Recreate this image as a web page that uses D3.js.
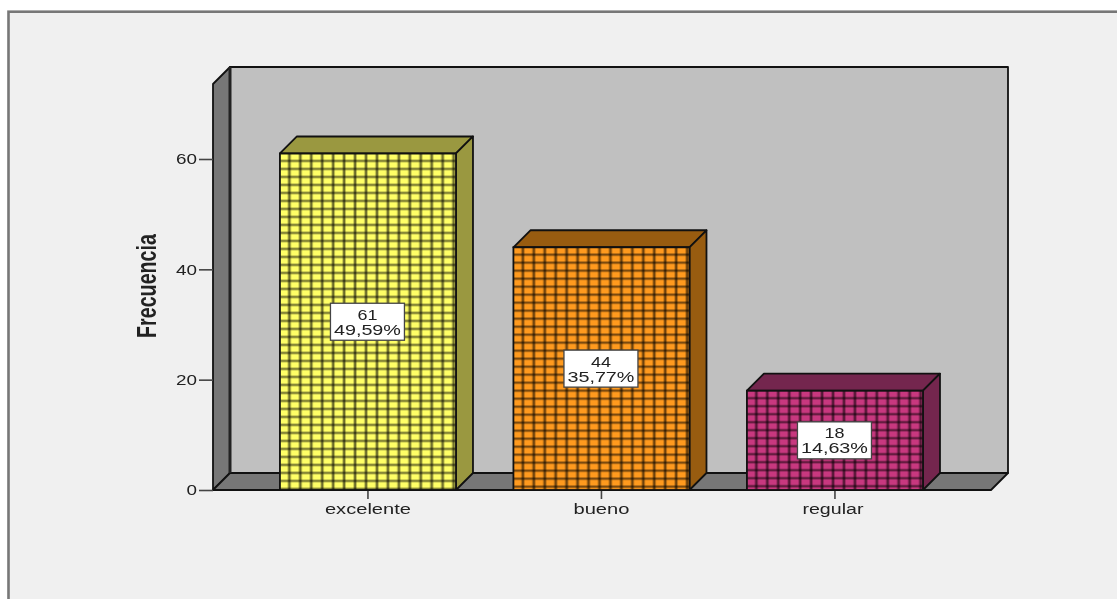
<!DOCTYPE html>
<html><head><meta charset="utf-8">
<script src="https://cdnjs.cloudflare.com/ajax/libs/d3/7.8.5/d3.min.js"></script>
<style>html,body{margin:0;padding:0;background:#fff;overflow:hidden}svg{display:block}text{font-family:"Liberation Sans",Arial,sans-serif;fill:#222}
#soft-layer{filter:blur(0.6px)}</style>
</head><body><svg id="c" width="1117" height="599"></svg>
<script>
const categories = ["excelente","bueno","regular"];
const counts = [61,44,18];
const percents = ["49,59%","35,77%","14,63%"];
const yTicks = [0,20,40,60];
const yTitle = "Frecuencia";
const frontColors = ["#ffff66","#ff9a1e","#c8387f"];
const sideColors = ["#9a9840","#985c10","#74264e"];

const W=1117,H=599,depth=17;
const x0=213,x1=991,yBase=490,yTop=84;
const svg=d3.select("#c");
const y=d3.scaleLinear().domain([0,(yBase-yTop)/(331/60)]).range([yBase,yTop]);
const x=d3.scaleBand().domain(categories).range([251.2,951.7]).paddingInner(0.246).paddingOuter(0.123);

const defs=svg.append("defs");
categories.forEach((c,i)=>{
  const pw=10.95,ph=8;
  const p=defs.append("pattern").attr("id","p"+i).attr("patternUnits","userSpaceOnUse")
    .attr("width",pw).attr("height",ph).attr("x",x(c)+0.4).attr("y",y(counts[i])+1);
  p.append("rect").attr("width",pw).attr("height",ph).attr("fill",frontColors[i]);
  p.append("rect").attr("x",pw-3.6).attr("width",3.4).attr("height",ph).attr("fill","#000").attr("opacity",.3);
  p.append("rect").attr("x",pw-2.7).attr("width",1.6).attr("height",ph).attr("fill","#000").attr("opacity",.45);
  p.append("rect").attr("y",ph-3).attr("width",pw).attr("height",2.9).attr("fill","#000").attr("opacity",.28);
  p.append("rect").attr("y",ph-2.2).attr("width",pw).attr("height",1.3).attr("fill","#000").attr("opacity",.42);
});

svg.append("rect").attr("width",W).attr("height",H).attr("fill","#fff");
const g=svg.append("g").attr("id","soft-layer");
g.append("rect").attr("x",8.5).attr("y",11.7).attr("width",W+20).attr("height",H+20)
  .attr("fill","#f0f0f0").attr("stroke","#777").attr("stroke-width",2.6);

const line=d3.line();
const poly=(pts,fill,sw=1.8)=>g.append("path").attr("d",line(pts)+"Z").attr("fill",fill)
  .attr("stroke","#111").attr("stroke-width",sw).attr("stroke-linejoin","round");

// walls
poly([[x0+depth,yTop-depth],[x1+depth,yTop-depth],[x1+depth,yBase-depth],[x0+depth,yBase-depth]],"#c0c0c0");
poly([[x0,yTop],[x0+depth,yTop-depth],[x0+depth,yBase-depth],[x0,yBase]],"#777777");
poly([[x0,yBase],[x0+depth,yBase-depth],[x1+depth,yBase-depth],[x1,yBase]],"#777777");
g.append("line").attr("x1",x0+depth).attr("x2",x0+depth).attr("y1",yTop-depth).attr("y2",yBase-depth).attr("stroke","#222").attr("stroke-width",3);

// axes
const yAxis=d3.axisLeft(y).tickValues(yTicks).tickSize(14).tickPadding(2);
const ax=g.append("g").attr("transform",`translate(${x0},0)`).call(yAxis);
ax.select(".domain").remove();
ax.selectAll(".tick line").attr("stroke","#444").attr("stroke-width",1.6);
ax.selectAll("text").attr("font-size",15).attr("text-anchor","end").attr("fill","#222")
  .attr("textLength",d=>d===0?10.5:21).attr("lengthAdjust","spacingAndGlyphs");
const xAxis=d3.axisBottom(x).tickSize(9).tickPadding(5);
const bx=g.append("g").attr("transform",`translate(0,${yBase})`).call(xAxis);
bx.select(".domain").remove();
bx.selectAll(".tick line").attr("stroke","#444").attr("stroke-width",1.6);
bx.selectAll("text").attr("font-size",14).attr("fill","#222")
  .attr("dx",d=>d==="regular"?-2:0)
  .attr("textLength",d=>({excelente:86,bueno:56,regular:61})[d]).attr("lengthAdjust","spacingAndGlyphs");

// bars
categories.forEach((c,i)=>{
  const l=x(c),r=l+x.bandwidth(),t=y(counts[i]);
  poly([[l,t],[l+depth,t-depth],[r+depth,t-depth],[r,t]],sideColors[i]);
  poly([[r,t],[r+depth,t-depth],[r+depth,yBase-depth],[r,yBase]],sideColors[i]);
  g.append("rect").attr("x",l).attr("y",t).attr("width",x.bandwidth()).attr("height",yBase-t)
    .attr("fill",`url(#p${i})`).attr("stroke","#111").attr("stroke-width",1.8);
  const cx=l+x.bandwidth()/2-0.5, cy=(t+yBase)/2;
  g.append("rect").attr("x",cx-37).attr("y",cy-18.5).attr("width",74).attr("height",37)
    .attr("fill","#fff").attr("stroke","#444").attr("stroke-width",1.3);
  g.append("text").attr("x",cx).attr("y",cy-2).attr("text-anchor","middle").attr("font-size",14.5).text(counts[i]).attr("textLength",20).attr("lengthAdjust","spacingAndGlyphs");
  g.append("text").attr("x",cx).attr("y",cy+13).attr("text-anchor","middle").attr("font-size",14.5).text(percents[i]).attr("textLength",67).attr("lengthAdjust","spacingAndGlyphs");
});

// y title
g.append("text").attr("transform","translate(156,286) rotate(-90)").attr("text-anchor","middle")
  .attr("font-size",27).attr("font-weight","bold").attr("fill","#111").attr("textLength",104).attr("lengthAdjust","spacingAndGlyphs").text(yTitle);
</script></body></html>
